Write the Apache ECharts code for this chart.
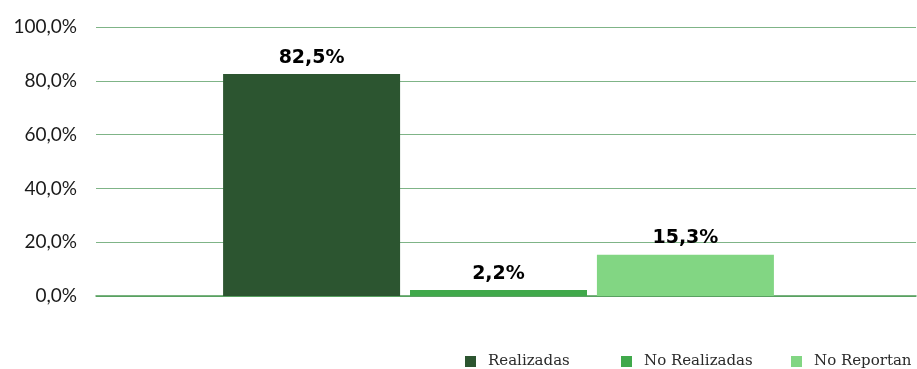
<!DOCTYPE html>
<html>
<head>
<meta charset="utf-8">
<script src="https://cdn.jsdelivr.net/npm/echarts@6/dist/echarts.min.js"></script>
<style>
  html, body { margin: 0; padding: 0; background: #ffffff; }
  #chart { width: 917px; height: 369px; }
</style>
</head>
<body>
<div id="chart"></div>
<script>
// Porcentaje de actividades por estado
const categories = [''];
const seriesNames = ['Realizadas', 'No Realizadas', 'No Reportan'];
const realizadas = [82.5];
const noRealizadas = [2.2];
const noReportan = [15.3];
const yTicks = [0, 20, 40, 60, 80, 100];

const colors = ['#2c5530', '#40a94b', '#82d683'];
const values = [realizadas, noRealizadas, noReportan];

const fmt = v => v.toFixed(1).replace('.', ',') + '%';

const legendLefts = [465, 621, 791];
const legendText = { fontFamily: 'DejaVu Serif', fontSize: 15, color: '#2a2a2a', padding: [0, 0, 0, 7] };

const chart = echarts.init(document.getElementById('chart'));
chart.setOption({
  animation: false,
  grid: [
    // bars
    { left: 96, right: 16, top: 27, bottom: 73 },
    // full-width gridlines and baseline
    { left: 96, right: 1, top: 27, bottom: 73 }
  ],
  legend: seriesNames.map((name, i) => ({
    left: legendLefts[i],
    top: 354,
    padding: 0,
    itemWidth: 11,
    itemHeight: 11,
    icon: 'rect',
    textStyle: legendText,
    data: [name]
  })),
  xAxis: [
    {
      type: 'category',
      gridIndex: 0,
      data: categories,
      axisLine: { show: false },
      axisTick: { show: false },
      axisLabel: { show: false }
    },
    {
      type: 'category',
      gridIndex: 1,
      data: categories,
      axisLine: { show: true, lineStyle: { color: '#4e9a55', width: 1.5 } },
      axisTick: { show: false },
      axisLabel: { show: false }
    }
  ],
  yAxis: [
    {
      type: 'value',
      gridIndex: 0,
      min: yTicks[0],
      max: yTicks[yTicks.length - 1],
      interval: 20,
      axisLine: { show: false },
      axisTick: { show: false },
      axisLabel: {
        formatter: v => fmt(v),
        fontFamily: 'Lato',
        fontSize: 19,
        color: '#1a1a1a',
        margin: 19
      },
      splitLine: { show: false }
    },
    {
      type: 'value',
      gridIndex: 1,
      min: yTicks[0],
      max: yTicks[yTicks.length - 1],
      interval: 20,
      axisLine: { show: false },
      axisTick: { show: false },
      axisLabel: { show: false },
      splitLine: { lineStyle: { color: '#7fb487', width: 1.2 } }
    }
  ],
  series: seriesNames.map((name, i) => ({
    name,
    type: 'bar',
    xAxisIndex: 0,
    yAxisIndex: 0,
    z: 3,
    data: values[i],
    barWidth: 177,
    barGap: '5.6%',
    itemStyle: { color: colors[i] },
    label: {
      show: true,
      position: 'top',
      distance: 7,
      formatter: p => fmt(p.value),
      fontFamily: 'DejaVu Sans',
      fontWeight: 'bold',
      fontSize: 19,
      color: '#000000'
    }
  }))
});
</script>
</body>
</html>
